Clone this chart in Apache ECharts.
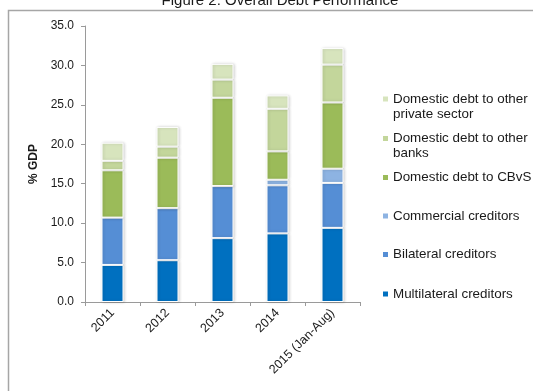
<!DOCTYPE html>
<html>
<head>
<meta charset="utf-8">
<script src="https://cdn.jsdelivr.net/npm/echarts@6/dist/echarts.min.js"></script>
<style>
  html, body { margin: 0; padding: 0; background: #fff; }
  #chart { width: 533px; height: 391px; }
</style>
</head>
<body>
<div id="chart"></div>
<script>
// Categories (years) and debt components, % of GDP
const years = ['2011', '2012', '2013', '2014', '2015 (Jan-Aug)'];

const multilateral = [4.7, 5.3, 8.1, 8.7, 9.4];
const bilateral    = [6.0, 6.6, 6.6, 6.1, 5.7];
const commercial   = [0,   0,   0,   0.7, 1.8];
const cbvs         = [6.0, 6.4, 11.2, 3.6, 8.4];
const otherBanks   = [1.2, 1.4, 2.3, 5.4, 4.8];
const otherPrivate = [2.3, 2.5, 2.0, 1.7, 2.1];

const yTicks = { min: 0, max: 35, interval: 5 };

const seriesDefs = [
  { name: 'Multilateral creditors', data: multilateral, color: '#0070C0' },
  { name: 'Bilateral creditors', data: bilateral, color: '#558ED5' },
  { name: 'Commercial creditors', data: commercial, color: '#8DB3E2' },
  { name: 'Domestic debt to CBvS', data: cbvs, color: '#9BBB59' },
  { name: 'Domestic debt to other banks', data: otherBanks, color: '#C3D69B' },
  { name: 'Domestic debt to other private sector', data: otherPrivate, color: '#D7E4BD' }
];

// Legend rows: one legend block per series so rows can sit at their own heights.
// Two-line names get a blank leading line so the swatch lines up with the first line.
const legendRows = [
  { name: 'Domestic debt to other private sector', label: ' \nDomestic debt to other\nprivate sector', top: 76.5 },
  { name: 'Domestic debt to other banks', label: ' \nDomestic debt to other\nbanks', top: 116 },
  { name: 'Domestic debt to CBvS', label: 'Domestic debt to CBvS', top: 170 },
  { name: 'Commercial creditors', label: 'Commercial creditors', top: 208.5 },
  { name: 'Bilateral creditors', label: 'Bilateral creditors', top: 247 },
  { name: 'Multilateral creditors', label: 'Multilateral creditors', top: 286.5 }
];

const chart = echarts.init(document.getElementById('chart'), null, { renderer: 'canvas' });

const axisGray = '#9a9a9a';
const textColor = '#1a1a1a';
const fontFamily = 'Liberation Sans, Arial, sans-serif';

chart.setOption({
  animation: false,
  backgroundColor: '#fff',
  textStyle: { fontFamily: fontFamily },
  title: {
    text: 'Figure 2: Overall Debt Performance',
    left: 280,
    textAlign: 'center',
    top: -7,
    padding: 0,
    textStyle: { fontSize: 15, fontWeight: 'normal', color: textColor, fontFamily: fontFamily }
  },
  graphic: [{
    type: 'rect',
    shape: { x: 8.5, y: 10.5, width: 600, height: 500 },
    style: { fill: 'none', stroke: '#a6a6a6', lineWidth: 1.5 },
    z: 10,
    silent: true
  }],
  legend: legendRows.map(r => ({
    data: [r.name],
    orient: 'vertical',
    left: 383,
    top: r.top,
    padding: 0,
    itemWidth: 5,
    itemHeight: 5,
    itemGap: 0,
    icon: 'rect',
    selectedMode: false,
    itemStyle: { borderWidth: 0, shadowBlur: 0 },
    formatter: () => r.label,
    textStyle: { fontSize: 13.4, lineHeight: 15, color: textColor, fontFamily: fontFamily }
  })),
  grid: { left: 85, right: 173, top: 26, bottom: 89, containLabel: false },
  xAxis: {
    type: 'category',
    data: years,
    axisLine: { lineStyle: { color: axisGray, width: 1 } },
    axisTick: { show: true, length: 4, lineStyle: { color: axisGray } },
    axisLabel: { rotate: 45, fontSize: 12.5, color: textColor, margin: 9, interval: 0, fontFamily: fontFamily }
  },
  yAxis: {
    type: 'value',
    min: yTicks.min,
    max: yTicks.max,
    interval: yTicks.interval,
    name: '% GDP',
    nameLocation: 'middle',
    nameGap: 38,
    nameRotate: 90,
    nameTextStyle: { fontSize: 12, fontWeight: 'bold', color: textColor, fontFamily: fontFamily },
    axisLine: { show: true, lineStyle: { color: axisGray, width: 1 } },
    axisTick: { show: true, length: 4, lineStyle: { color: axisGray } },
    splitLine: { show: false },
    axisLabel: {
      fontSize: 12, color: textColor, margin: 11, fontFamily: fontFamily,
      formatter: v => v.toFixed(1)
    }
  },
  series: seriesDefs.map(s => ({
    name: s.name,
    type: 'bar',
    stack: 'debt',
    data: s.data,
    barWidth: 22,
    itemStyle: {
      color: s.color,
      borderColor: '#ffffff',
      borderWidth: 1,
      shadowColor: 'rgba(0,0,0,0.18)',
      shadowBlur: 3,
      shadowOffsetX: 1,
      shadowOffsetY: 0
    }
  }))
});
</script>
</body>
</html>
